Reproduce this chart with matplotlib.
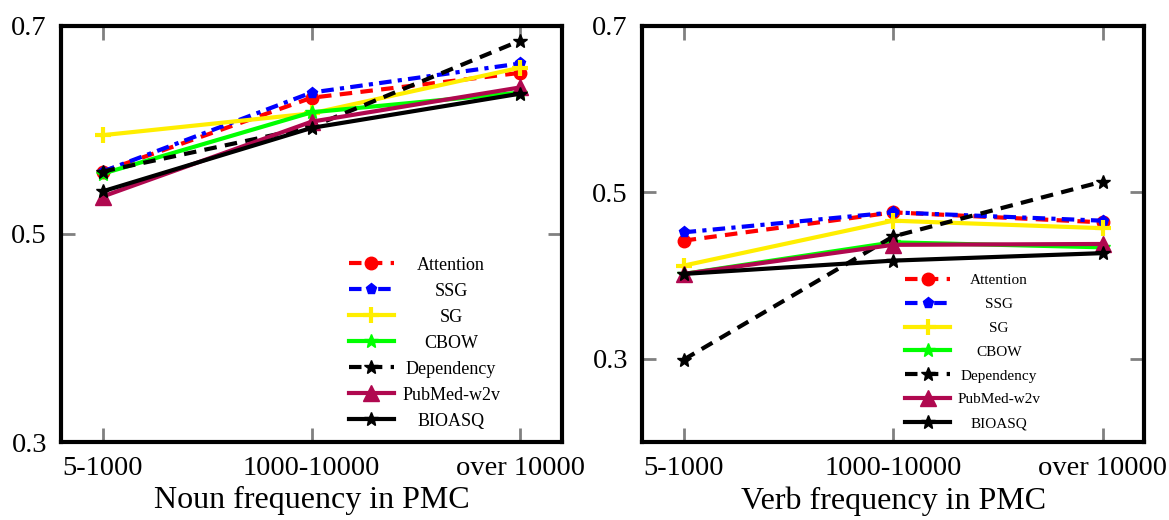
import matplotlib
matplotlib.use('Agg')
import matplotlib.pyplot as plt
from matplotlib.transforms import offset_copy

plt.rcParams['font.family'] = ['Liberation Serif', 'DejaVu Serif']

bins = ['5-1000', '1000-10000', 'over 10000']
methods = ['Attention', 'SSG', 'SG', 'CBOW', 'Dependency', 'PubMed-w2v', 'BIOASQ']

noun_scores = {
    'Attention':  [0.560, 0.631, 0.655],
    'SSG':        [0.560, 0.636, 0.664],
    'SG':         [0.595, 0.616, 0.660],
    'CBOW':       [0.558, 0.617, 0.636],
    'Dependency': [0.560, 0.603, 0.686],
    'PubMed-w2v': [0.536, 0.608, 0.641],
    'BIOASQ':     [0.541, 0.602, 0.635],
}
verb_scores = {
    'Attention':  [0.442, 0.476, 0.464],
    'SSG':        [0.452, 0.476, 0.466],
    'SG':         [0.412, 0.466, 0.457],
    'CBOW':       [0.402, 0.440, 0.434],
    'Dependency': [0.299, 0.447, 0.513],
    'PubMed-w2v': [0.402, 0.437, 0.438],
    'BIOASQ':     [0.402, 0.418, 0.427],
}

styles = {
    'Attention':  dict(color='#ff0000', ls=(0, (3, 2)), marker='o', ms=9),
    'SSG':        dict(color='#0000ff', ls=(0, (3, 1.5, 1, 1.5)), marker='p', ms=8),
    'SG':         dict(color='#ffee00', ls='-', marker='+', ms=12, mew=3),
    'CBOW':       dict(color='#00ff00', ls='-', marker='*', ms=10),
    'Dependency': dict(color='black', ls=(0, (3, 2)), marker='*', ms=10),
    'PubMed-w2v': dict(color='#b0084f', ls='-', marker='^', ms=11),
    'BIOASQ':     dict(color='black', ls='-', marker='*', ms=10),
}

fig = plt.figure(figsize=(11.69, 5.2), dpi=100)
ax1 = fig.add_axes([0.052, 0.15, 0.429, 0.80])
ax2 = fig.add_axes([0.549, 0.15, 0.430, 0.80])

x = list(range(len(bins)))


def center_legend_text(leg):
    # legend labels are centred on one column instead of left aligned
    fig.canvas.draw()
    texts = leg.get_texts()
    widths = [t.get_window_extent().width for t in texts]
    wmax = max(widths)
    for t, w in zip(texts, widths):
        t.set_transform(offset_copy(t.get_transform(), fig=fig,
                                    x=(wmax - w) / 2, units='dots'))


def draw_panel(ax, scores, ylim, yticks, xlabel, legend_loc, legend_size,
               spacing, hlen):
    for m in methods:
        st = styles[m]
        ax.plot(x, scores[m], label=m, lw=3, color=st['color'], ls=st['ls'],
                marker=st['marker'], ms=st['ms'], mew=st.get('mew', 1),
                mec=st['color'], mfc=st['color'])
    ax.set_xlim(-0.2, 2.2)
    ax.set_ylim(*ylim)
    ax.set_xticks(x)
    ax.set_xticklabels(bins)
    ax.set_yticks(yticks)
    ax.set_yticklabels(['%.1f' % t for t in yticks])
    ax.tick_params(direction='in', length=10, width=2, color='#808080',
                   top=True, right=True, labelsize=20.5, pad=10)
    for sp in ax.spines.values():
        sp.set_linewidth(3)
    ax.set_xlabel(xlabel, fontsize=23, labelpad=4)
    leg = ax.legend(loc=legend_loc, frameon=False, fontsize=legend_size,
                    handlelength=hlen, handletextpad=0.45,
                    labelspacing=spacing)
    center_legend_text(leg)


draw_panel(ax1, noun_scores, (0.3, 0.7), [0.3, 0.5, 0.7],
           'Noun frequency in PMC', (0.56, 0.012), 13, 0.5, 2.5)
draw_panel(ax2, verb_scores, (0.2, 0.7), [0.3, 0.5, 0.7],
           'Verb frequency in PMC', (0.512, 0.014), 11, 0.66, 2.95)

fig.savefig('out.png', dpi=100)
